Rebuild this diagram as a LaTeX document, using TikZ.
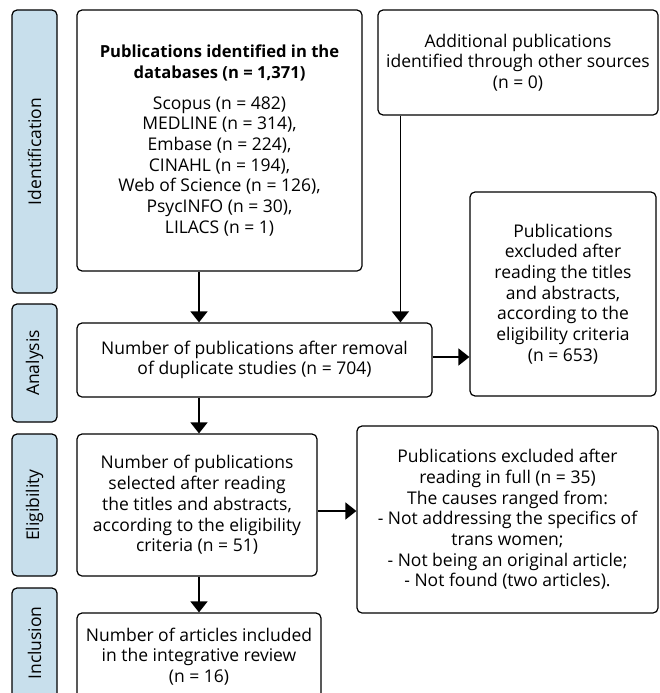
\documentclass[tikz,border=0pt]{standalone}
\usepackage{fontspec}
\setmainfont{Open Sans}
\usetikzlibrary{arrows.meta}
\definecolor{sideblue}{RGB}{200,223,236}
\newcommand{\headfont}{\fontsize{16.6}{22.5}\selectfont\bfseries}
\begin{document}
\begin{tikzpicture}[x=1pt, y=-1pt,
    box/.style = {draw, rounded corners=5pt, line width=1.2pt,
                align=center, inner sep=0pt},
    side/.style = {box, fill=sideblue, rotate=90,
                minimum height=45pt},
    arr/.style = {line width=1.6pt, -{Triangle[width=17pt,length=11pt]}},
    every node/.append style = {font=\fontsize{17.5}{20.7}\selectfont}
                    ]
        \useasboundingbox (0,0) rectangle (659,693);
        % phases on the left
        \foreach \y/\h/\t in {151.5/283/Identification, 363/118/Analysis,
                              505/142/Eligibility, 643/110/Inclusion}
            \node[side, minimum width=\h pt] (s\t) at (34.5,\y) {\t};
        % flow boxes
        \node[box, minimum width=285pt, minimum height=261pt] (db) at (219.5,140.5)
            {{\headfont Publications identified in the}\\
             {\headfont databases (n = 1,371)}\\[10pt]
             Scopus (n = 482)\\ MEDLINE (n = 314),\\ Embase (n = 224),\\
             CINAHL (n = 194),\\ Web of Science (n = 126),\\
             PsycINFO (n = 30),\\ LILACS (n = 1)};
        \node[box, minimum width=280pt, minimum height=105pt] (add) at (518,62.5)
            {Additional publications\\ identified through other sources\\ (n = 0)};
        \node[box, minimum width=355pt, minimum height=74pt] (rem) at (254.5,360)
            {Number of publications after removal\\ of duplicate studies (n = 704)};
        \node[box, minimum width=186pt, minimum height=204pt] (exa) at (563,294)
            {Publications\\ excluded after\\ reading the titles\\ and abstracts,\\
             according to the\\ eligibility criteria\\ (n = 653)};
        \node[box, minimum width=240pt, minimum height=142pt] (elig) at (197,505)
            {Number of publications\\ selected after reading\\ the titles and abstracts,\\
             according to the eligibility\\ criteria (n = 51)};
        \node[box, minimum width=301pt, minimum height=187pt] (exb) at (507.5,519.5)
            {Publications excluded after\\ reading in full (n = 35)\\
             The causes ranged from:\\ - Not addressing the specifics of\\
             trans women;\\ - Not being an original article;\\
             - Not found (two articles).};
        \node[box, minimum width=244pt, minimum height=87pt] (incl) at (199,656.5)
            {Number of articles included\\ in the integrative review\\ (n = 16)};
        % arrows
        \draw[arr] (db.south -| incl.north) -- (rem.north -| incl.north);
        \draw[arr] ([xshift=23pt]add.south west) -- ([xshift=23pt]add.south west |- rem.north);
        \draw[arr] ([yshift=3pt]rem.east) -- ([yshift=3pt]rem.east -| exa.west);
        \draw[arr] (rem.south -| incl.north) -- (elig.north -| incl.north);
        \draw[arr] ([yshift=-6pt]elig.east) -- ([yshift=-6pt]elig.east -| exb.west);
        \draw[arr] (elig.south -| incl.north) -- (incl.north);
    \end{tikzpicture}
\end{document}
